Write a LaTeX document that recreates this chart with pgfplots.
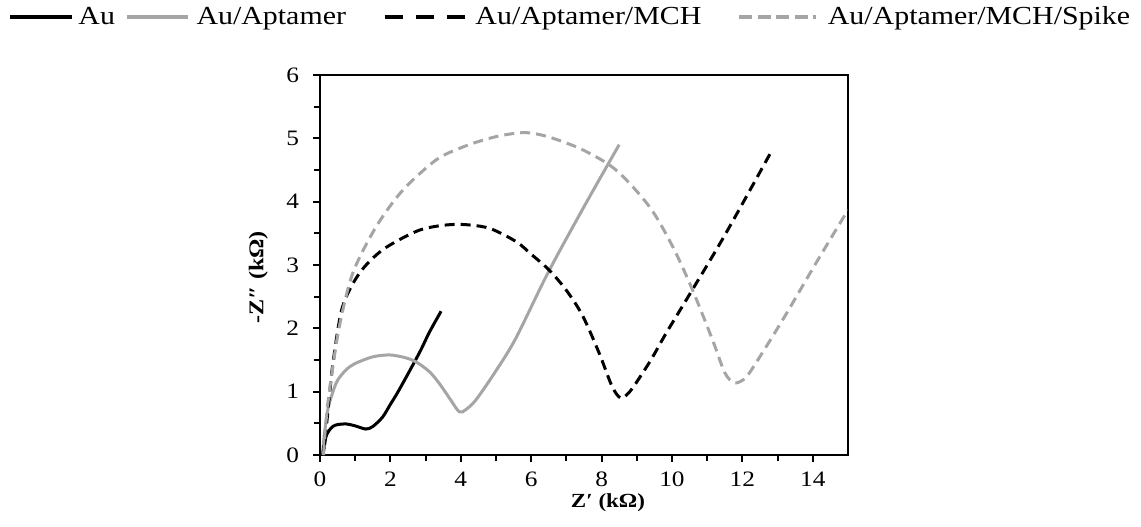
\documentclass[border=0pt]{standalone}
\usepackage{fontspec}
\setmainfont[FakeStretch=1.15]{Liberation Serif}
\usepackage{pgfplots}
\pgfplotsset{compat=1.18}
\definecolor{gr}{RGB}{165,165,165}

\begin{document}
\begin{tikzpicture}
\begin{axis}[
  scale only axis,
  width=264pt, height=190pt,
  xmin=0, xmax=15, ymin=0, ymax=6,
  xtick={0,2,...,14}, minor x tick num=1,
  ytick={0,...,6}, minor y tick num=1,
  tick align=outside, tick pos=left,
  major tick length=3.5pt, minor tick length=3pt,
  tick style={black, line width=1pt},
  axis line style={black, line width=1.3pt},
  ticklabel style={font=\fontsize{11}{13}\selectfont},
  xticklabel style={yshift=-1.5pt},
  yticklabel style={xshift=-3.5pt},
  /pgf/number format/assume math mode=true,
  xlabel={\bfseries Z′ (kΩ)},
  ylabel={\bfseries -Z″ (kΩ)},
  xlabel style={at={(axis description cs:0.5455,-0.125)}, anchor=center, font=\fontsize{10}{12}\selectfont},
  ylabel style={at={(axis description cs:-0.117,0.468)}, anchor=center, font=\fontsize{10.5}{12}\selectfont},
  legend style={at={(axis description cs:0,1)}, anchor=west, xshift=-156pt, yshift=29pt,
    draw=none, fill=none, inner sep=0pt, outer sep=0pt,
    font=\fontsize{13}{15}\selectfont,
    /tikz/every odd column/.style={column sep=0pt},
    /tikz/every even column/.style={column sep=0pt},
    nodes={inner sep=0pt}, cells={anchor=west}},
  legend columns=4,
  every axis plot/.append style={line width=1.5pt, smooth},
]
\coordinate (bl) at (rel axis cs:0,0);
\coordinate (tr) at (rel axis cs:1,1);

% Au
\addplot[black, legend image code/.code={\draw[black,solid,line width=2pt] (0pt,0pt) -- (31pt,0pt); \path (33.5pt,0pt);}]
  coordinates {(0.08,0) (0.12,0.12) (0.17,0.29) (0.25,0.38) (0.36,0.45) (0.5,0.48) (0.75,0.49) (1.0,0.46) (1.3,0.41) (1.5,0.45) (1.78,0.6) (2.0,0.8) (2.25,1.03) (2.82,1.61) (3.1,1.93) (3.44,2.27)};
\addlegendentry{Au\hspace*{5pt}}

% Au/Aptamer
\addplot[gr, legend image code/.code={\draw[gr,solid,line width=2pt] (0pt,0pt) -- (30.5pt,0pt); \path (34pt,0pt);}]
  coordinates {(0.07,0) (0.12,0.3) (0.22,0.71) (0.35,0.97) (0.5,1.18) (0.75,1.35) (1.02,1.45) (1.5,1.55) (1.97,1.58) (2.4,1.54) (2.73,1.47) (3.1,1.32) (3.39,1.13) (3.7,0.88) (3.96,0.68) (4.15,0.72) (4.43,0.87) (5.0,1.33) (5.57,1.85) (6.47,2.87) (7.5,3.92) (8.5,4.9)};
\addlegendentry{Au/Aptamer\hspace*{18.5pt}}

% Au/Aptamer/MCH
\addplot[black, dash pattern=on 5pt off 3pt, legend image code/.code={\draw[black,line width=2pt,dash pattern=on 9pt off 6.5pt] (0pt,0pt) -- (40pt,0pt); \path (44.5pt,0pt);}]
  coordinates {(0.08,0) (0.12,0.2) (0.19,0.5) (0.27,0.95) (0.38,1.5) (0.64,2.34) (1.12,2.87) (1.78,3.24) (2.73,3.53) (3.4,3.62) (4.05,3.64) (4.81,3.58) (5.57,3.37) (6.0,3.17) (6.51,2.92) (7.0,2.6) (7.46,2.2) (7.93,1.61) (8.3,1.08) (8.54,0.9) (8.75,0.97) (8.97,1.13) (9.4,1.5) (9.83,1.92) (10.58,2.61) (11.53,3.5) (12.86,4.83)};
\addlegendentry{Au/Aptamer/MCH\hspace*{18pt}}

% Au/Aptamer/MCH/Spike
\addplot[gr, dash pattern=on 5pt off 3pt, legend image code/.code={\draw[gr,line width=2pt,dash pattern=on 6.5pt off 2.7pt] (0pt,0pt) -- (38.5pt,0pt); \path (43.5pt,0pt);}]
  coordinates {(0.1,0) (0.15,0.4) (0.22,0.8) (0.31,1.18) (0.55,2.03) (0.93,2.87) (1.59,3.6) (2.35,4.18) (3.3,4.66) (4.0,4.85) (4.62,4.97) (5.2,5.05) (5.85,5.09) (6.51,5.02) (7.46,4.82) (8.41,4.5) (9.36,3.92) (10.02,3.29) (10.58,2.61) (11.15,1.82) (11.5,1.3) (11.77,1.14) (12.05,1.2) (12.3,1.38) (13.14,2.13) (14.09,3.03) (15,3.87)};
\addlegendentry{Au/Aptamer/MCH/Spike}
\end{axis}
\pgfresetboundingbox
\path[use as bounding box] ([xshift=-160pt,yshift=-35.5pt]bl) rectangle ([xshift=146.5pt,yshift=37.5pt]tr);
\end{tikzpicture}
\end{document}
